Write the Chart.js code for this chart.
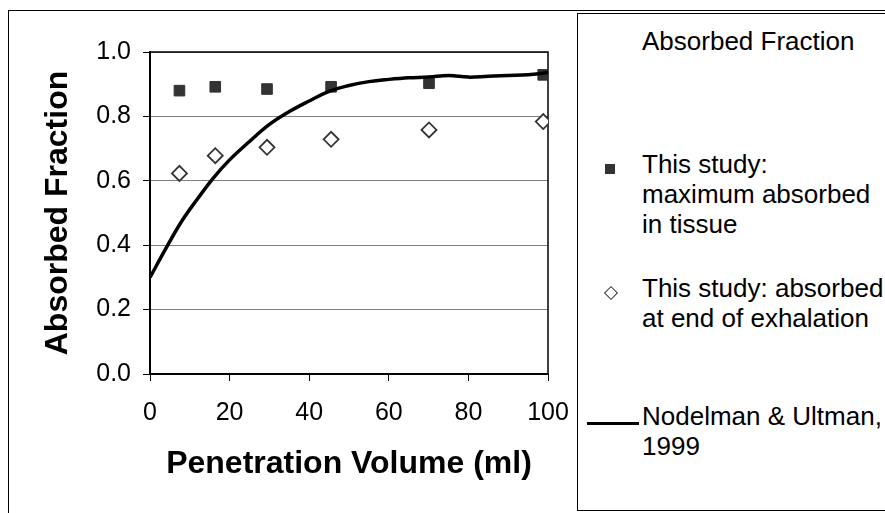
<!DOCTYPE html>
<html>
<head>
<meta charset="utf-8">
<script src="https://cdn.jsdelivr.net/npm/chart.js@4/dist/chart.umd.min.js"></script>
<style>
  html, body { margin: 0; padding: 0; background: #fff; overflow: hidden; }
  #wrap { position: relative; width: 885px; height: 513px; overflow: hidden; background: #fff; }
  #frame { position: absolute; left: 8px; top: 10px; width: 920px; height: 600px; border: 1px solid #000; box-sizing: border-box; }
  #c { position: absolute; left: 0; top: 0; }
  #legend { position: absolute; left: 577px; top: 13px; width: 400px; height: 498px; border: 1px solid #000; box-sizing: border-box; background: #fff;
            font-family: "Liberation Sans", Arial, sans-serif; font-size: 26px; line-height: 30px; color: #000; }
  .lt { position: absolute; left: 64px; white-space: nowrap; }
  .mk { position: absolute; }
</style>
</head>
<body>
<div id="wrap">
  <div id="frame"></div>
  <canvas id="c" width="885" height="513"></canvas>
  <div id="legend"></div>
</div>
<script>
// ---- data ----
const xTitle = "Penetration Volume (ml)";
const yTitle = "Absorbed Fraction";
const legendTitle = "Absorbed Fraction";
const seriesNames = [
  ["This study:", "maximum absorbed", "in tissue"],
  ["This study: absorbed", "at end of exhalation"],
  ["Nodelman & Ultman,", "1999"]
];
const studyVolumes = [7.4, 16.4, 29.4, 45.5, 70.1, 98.8];
const maxAbsorbed = [0.880, 0.892, 0.885, 0.892, 0.903, 0.929];
const endExhalation = [0.623, 0.678, 0.704, 0.729, 0.758, 0.784];
const modelVolumes = [0, 4, 8, 12, 16, 20, 25, 30, 35, 40, 45, 50, 55, 60, 65, 70, 75, 80, 85, 90, 95, 100];
const modelFraction = [0.300, 0.390, 0.475, 0.545, 0.610, 0.665, 0.722, 0.775, 0.815, 0.848, 0.878, 0.896, 0.908, 0.915, 0.920, 0.922, 0.927, 0.922, 0.925, 0.927, 0.929, 0.936];
const xTicks = [0, 20, 40, 60, 80, 100];
const yTicks = [0.0, 0.2, 0.4, 0.6, 0.8, 1.0];

const FONT = '"Liberation Sans", Arial, sans-serif';
const toPts = (xs, ys) => xs.map((x, i) => ({x: x, y: ys[i]}));

const plotBorder = {
  id: 'plotBorder',
  beforeDatasetsDraw(chart) {
    const {ctx, chartArea: a} = chart;
    ctx.save();
    ctx.strokeStyle = '#000';
    ctx.lineWidth = 1.5;
    ctx.strokeRect(a.left, a.top, a.right - a.left, a.bottom - a.top);
    ctx.restore();
  }
};

new Chart(document.getElementById('c'), {
  type: 'scatter',
  data: {
    datasets: [
      {
        type: 'line',
        label: seriesNames[2].join(' '),
        data: toPts(modelVolumes, modelFraction),
        borderColor: '#000',
        borderWidth: 3.5,
        pointRadius: 0,
        fill: false,
        tension: 0.4,
        order: 0
      },
      {
        label: seriesNames[0].join(' '),
        data: toPts(studyVolumes, maxAbsorbed),
        pointStyle: 'rect',
        pointRadius: 7.5,
        backgroundColor: '#333333',
        borderColor: '#333333',
        borderWidth: 1,
        order: 1
      },
      {
        label: seriesNames[1].join(' '),
        data: toPts(studyVolumes, endExhalation),
        pointStyle: 'rectRot',
        pointRadius: 7.5,
        backgroundColor: '#ffffff',
        borderColor: '#333333',
        borderWidth: 1.8,
        order: 2
      }
    ]
  },
  options: {
    responsive: false,
    animation: false,
    events: [],
    layout: { padding: { left: 10, top: 52, right: 337, bottom: 0 } },
    plugins: { legend: { display: false }, tooltip: { enabled: false } },
    scales: {
      x: {
        type: 'linear', min: 0, max: 100,
        afterBuildTicks: s => { s.ticks = xTicks.map(v => ({value: v})); },
        afterFit: s => { s.height = 139; },
        ticks: { color: '#000', font: { family: FONT, size: 25 }, padding: 17, maxRotation: 0 },
        grid: { drawOnChartArea: false, tickLength: 7, tickColor: '#000', tickWidth: 1 },
        border: { color: '#000', width: 2 },
        title: { display: true, text: xTitle, color: '#000', font: { family: FONT, size: 32, weight: 'bold' }, padding: { top: 0, bottom: 30 } }
      },
      y: {
        type: 'linear', min: 0, max: 1,
        afterBuildTicks: s => { s.ticks = yTicks.map(v => ({value: v})); },
        afterFit: s => { s.width = 140; },
        ticks: { color: '#000', font: { family: FONT, size: 25 }, padding: 12, callback: v => v.toFixed(1) },
        grid: { color: '#808080', lineWidth: 1, tickLength: 7, tickColor: '#000', tickWidth: 1 },
        border: { color: '#000', width: 2 },
        title: { display: true, text: yTitle, color: '#000', font: { family: FONT, size: 32, weight: 'bold' }, padding: { top: 29, bottom: 0 } }
      }
    }
  },
  plugins: [plotBorder]
});

// ---- legend (HTML) ----
const lg = document.getElementById('legend');
function addText(lines, top) {
  const d = document.createElement('div');
  d.className = 'lt';
  d.style.top = top + 'px';
  lines.forEach((t) => {
    const s = document.createElement('div');
    s.textContent = t;
    d.appendChild(s);
  });
  lg.appendChild(d);
}
addText([legendTitle], 12);
addText(seriesNames[0], 135);
addText(seriesNames[1], 259);
addText(seriesNames[2], 387);
const sq = document.createElement('div');
sq.className = 'mk';
sq.style.cssText = 'left:27px;top:150px;width:10px;height:10px;background:#333;';
lg.appendChild(sq);
const dm = document.createElement('div');
dm.className = 'mk';
dm.style.cssText = 'left:28px;top:274px;width:8px;height:8px;border:1.5px solid #333;background:#fff;transform:rotate(45deg);';
lg.appendChild(dm);
const ln = document.createElement('div');
ln.className = 'mk';
ln.style.cssText = 'left:9px;top:408px;width:52px;height:3px;background:#000;';
lg.appendChild(ln);
</script>
</body>
</html>
